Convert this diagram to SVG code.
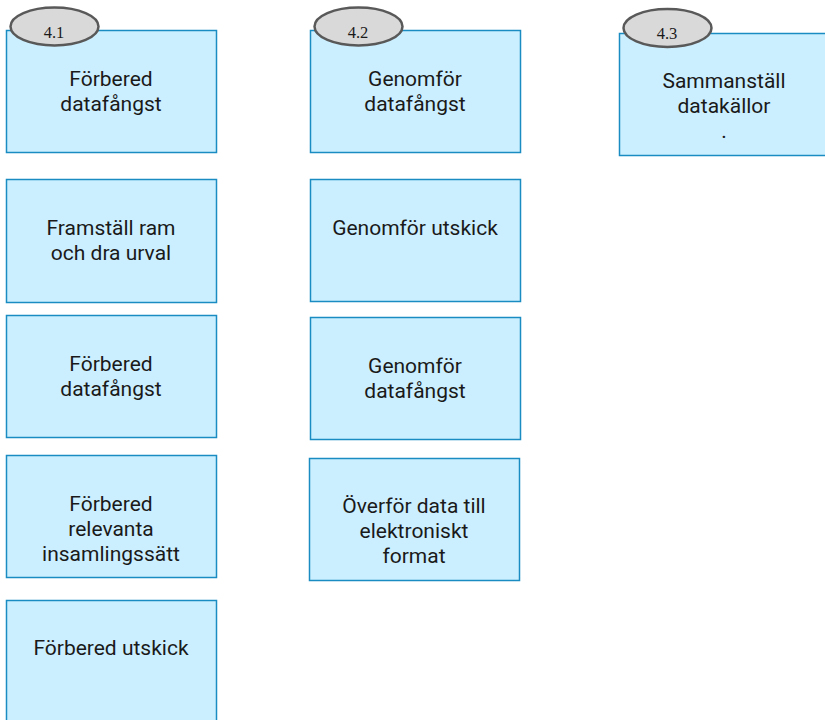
<svg xmlns="http://www.w3.org/2000/svg" width="825" height="720" viewBox="0 0 825 720">
<style>
.box{fill:#ccefff;stroke:#1b8cc2;stroke-width:1.5}
.t{font-family:Roboto,"Liberation Sans",sans-serif;font-size:21px;fill:#1a1a1a;text-anchor:middle}
.ov{fill:#d9d9d9;stroke:#595959;stroke-width:2.5}
.n{font-family:"Liberation Serif",serif;font-size:16.5px;fill:#1a1a1a;text-anchor:middle}
</style>
<rect width="825" height="720" fill="#ffffff"/>
<g id="connectors"/>
<g id="n41">
<rect class="box" x="6.5" y="30.5" width="210" height="122"/>
<text class="t" x="111" y="86">Förbered</text>
<text class="t" x="111" y="111">datafångst</text>
<ellipse class="ov" cx="54.5" cy="26.5" rx="44" ry="19"/>
<text class="n" x="54" y="38">4.1</text>
</g>
<g id="n41a">
<rect class="box" x="6.5" y="179.5" width="210" height="123"/>
<text class="t" x="111" y="235">Framställ ram</text>
<text class="t" x="111" y="260">och dra urval</text>
</g>
<g id="n41b">
<rect class="box" x="6.5" y="315.5" width="210" height="122"/>
<text class="t" x="111" y="371">Förbered</text>
<text class="t" x="111" y="396">datafångst</text>
</g>
<g id="n41c">
<rect class="box" x="6.5" y="455.5" width="210" height="122"/>
<text class="t" x="111" y="511">Förbered</text>
<text class="t" x="111" y="536">relevanta</text>
<text class="t" x="111" y="561">insamlingssätt</text>
</g>
<g id="n41d">
<rect class="box" x="6.5" y="600.5" width="210" height="130"/>
<text class="t" x="111" y="655">Förbered utskick</text>
</g>
<g id="n42">
<rect class="box" x="310.5" y="30.5" width="210" height="122"/>
<text class="t" x="415" y="86">Genomför</text>
<text class="t" x="415" y="111">datafångst</text>
<ellipse class="ov" cx="358.5" cy="26.5" rx="44" ry="19"/>
<text class="n" x="358" y="38">4.2</text>
</g>
<g id="n42a">
<rect class="box" x="310.5" y="179.5" width="210" height="122"/>
<text class="t" x="415" y="235">Genomför utskick</text>
</g>
<g id="n42b">
<rect class="box" x="310.5" y="317.5" width="210" height="122"/>
<text class="t" x="415" y="373">Genomför</text>
<text class="t" x="415" y="398">datafångst</text>
</g>
<g id="n42c">
<rect class="box" x="309.5" y="458.5" width="210" height="122"/>
<text class="t" x="414" y="513">Överför data till</text>
<text class="t" x="414" y="538">elektroniskt</text>
<text class="t" x="414" y="563">format</text>
</g>
<g id="n43">
<rect class="box" x="619.5" y="33.5" width="220" height="122"/>
<text class="t" x="724" y="88">Sammanställ</text>
<text class="t" x="724" y="113">datakällor</text>
<text class="t" x="724" y="138">.</text>
<ellipse class="ov" cx="667.5" cy="28" rx="44" ry="19"/>
<text class="n" x="667" y="39">4.3</text>
</g>
</svg>
